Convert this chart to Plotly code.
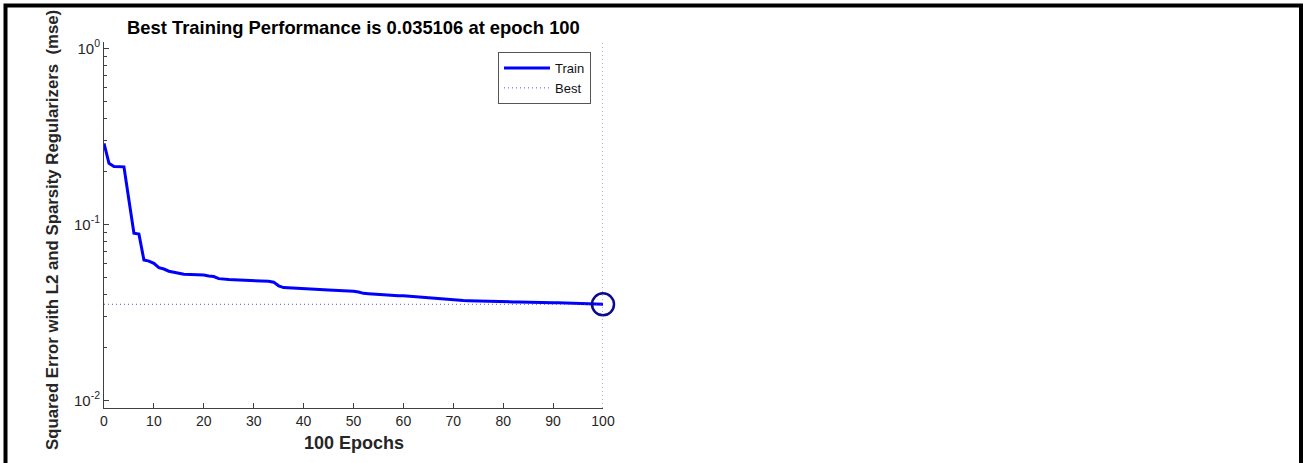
import plotly.graph_objects as go

# ---- data ----
epochs = list(range(0, 101))
train_perf = [
    0.288, 0.222, 0.213, 0.212, 0.212, 0.137, 0.089, 0.088, 0.0626, 0.0618,
    0.0600, 0.0567, 0.0557, 0.0541, 0.0532, 0.0527, 0.0520, 0.0519, 0.0518, 0.0517,
    0.0515, 0.0509, 0.0505, 0.0491, 0.0486, 0.0485, 0.0484, 0.0483, 0.0482, 0.0480,
    0.0478, 0.0477, 0.0476, 0.0474, 0.0469, 0.0447, 0.0437, 0.0435, 0.0433, 0.0432,
    0.0431, 0.0429, 0.0428, 0.0426, 0.0425, 0.0423, 0.0422, 0.0421, 0.0419, 0.0418,
    0.0416, 0.0412, 0.0405, 0.0403, 0.0401, 0.0399, 0.0395, 0.0394, 0.0393, 0.0393,
    0.0392, 0.0390, 0.0388, 0.0385, 0.0382, 0.0380, 0.0377, 0.0375, 0.0373, 0.0372,
    0.0371, 0.0370, 0.0369, 0.0368, 0.0367, 0.0366, 0.0366, 0.0365, 0.0364, 0.0364,
    0.0363, 0.0363, 0.0362, 0.0362, 0.0361, 0.0361, 0.0360, 0.0360, 0.0359, 0.0359,
    0.0358, 0.0358, 0.0357, 0.0357, 0.0356, 0.0355, 0.0354, 0.0353, 0.0352, 0.0352,
    0.035106,
]
best_epoch = 100
best_perf = 0.035106
best_x = [0, 100]
best_y = [best_perf, best_perf]

y_tickvals = [0.01, 0.1, 1]
y_ticktext = ["10<sup>-2</sup>", "10<sup>-1</sup>", "10<sup>0</sup>"]
x_tickvals = [0, 10, 20, 30, 40, 50, 60, 70, 80, 90, 100]

title_text = "Best Training Performance is 0.035106 at epoch 100"
xlabel = "100 Epochs"
ylabel = "Squared Error with L2 and Sparsity Regularizers\u00a0 (mse)"

FONT = "Liberation Sans, Arial, sans-serif"
AXC = "#404040"
TXT = "#262626"
DOT = "rgba(60,60,225,0.85)"

# geometry (pixels)
W, H = 1303, 463
ML, MR, MT, MB = 104, 700, 42, 55
PW = W - ML - MR
PH = H - MT - MB


def px2x(px):
    return (px - ML) / PW


def px2y(py):
    return (H - MB - py) / PH


minor_vals = [m * 10.0 ** d for d in (-2, -1) for m in range(2, 10)]

fig = go.Figure()
fig.add_trace(go.Scatter(
    x=epochs, y=train_perf, mode="lines", name="Train",
    line=dict(color="#0000ff", width=3), cliponaxis=False,
))
fig.add_trace(go.Scatter(
    x=best_x, y=best_y, mode="lines", name="Best",
    line=dict(color=DOT, width=1, dash="1px,3px"),
    cliponaxis=False,
))
fig.add_trace(go.Scatter(
    x=[best_epoch], y=[best_perf], mode="markers", showlegend=False,
    marker=dict(symbol="circle-open", size=22, color="#0b0b8c",
                line=dict(width=2.5, color="#0b0b8c")),
    cliponaxis=False,
))

fig.update_layout(
    width=W, height=H,
    margin=dict(l=ML, r=MR, t=MT, b=MB),
    paper_bgcolor="white", plot_bgcolor="white",
    font=dict(family=FONT, color=TXT),
    showlegend=True,
    legend=dict(
        x=px2x(591), y=px2y(52), xanchor="right", yanchor="top",
        bgcolor="white", bordercolor="#555555", borderwidth=1,
        font=dict(family=FONT, size=13, color="#111111"),
        tracegroupgap=0, itemwidth=46,
    ),
    xaxis=dict(
        range=[0, 100], tickvals=x_tickvals,
        showline=True, linecolor=AXC, linewidth=1,
        ticks="inside", ticklen=5, tickcolor=AXC,
        showgrid=False, zeroline=False,
        tickfont=dict(family=FONT, size=14, color=TXT),
    ),
    yaxis=dict(
        type="log", range=[-2.044, 0.036],
        tickvals=y_tickvals, ticktext=y_ticktext,
        showline=True, linecolor=AXC, linewidth=1,
        ticks="inside", ticklen=5, tickcolor=AXC,
        showgrid=False, zeroline=False,
        tickfont=dict(family=FONT, size=15, color=TXT),
        minor=dict(tickvals=minor_vals, ticks="inside", ticklen=3,
                   tickcolor=AXC, showgrid=False),
    ),
    shapes=[
        dict(type="line", xref="x", yref="paper", x0=best_epoch, x1=best_epoch,
             y0=0, y1=1,
             line=dict(color=DOT, width=1, dash="1px,3px")),
        dict(type="path", xref="paper", yref="paper",
             path=f"M {px2x(5.5)} {px2y(470)} L {px2x(5.5)} {px2y(5.5)} "
                  f"L {px2x(1301)} {px2y(5.5)} L {px2x(1301)} {px2y(470)}",
             line=dict(color="black", width=4)),
    ],
    annotations=[
        dict(text="<b>" + title_text + "</b>", xref="paper", yref="paper",
             x=0.5, y=px2y(27.5), xanchor="center", yanchor="middle",
             showarrow=False, font=dict(family=FONT, size=18.4, color="#000000")),
        dict(text="<b>" + xlabel + "</b>", xref="paper", yref="paper",
             x=0.5, y=px2y(443), xanchor="center", yanchor="middle",
             showarrow=False, font=dict(family=FONT, size=18, color=TXT)),
        dict(text="<b>" + ylabel + "</b>", xref="paper", yref="paper",
             x=px2x(52), y=px2y(230), xanchor="center", yanchor="middle",
             textangle=-90, showarrow=False,
             font=dict(family=FONT, size=16.8, color=TXT)),
    ],
)

fig.write_html("out.html")
